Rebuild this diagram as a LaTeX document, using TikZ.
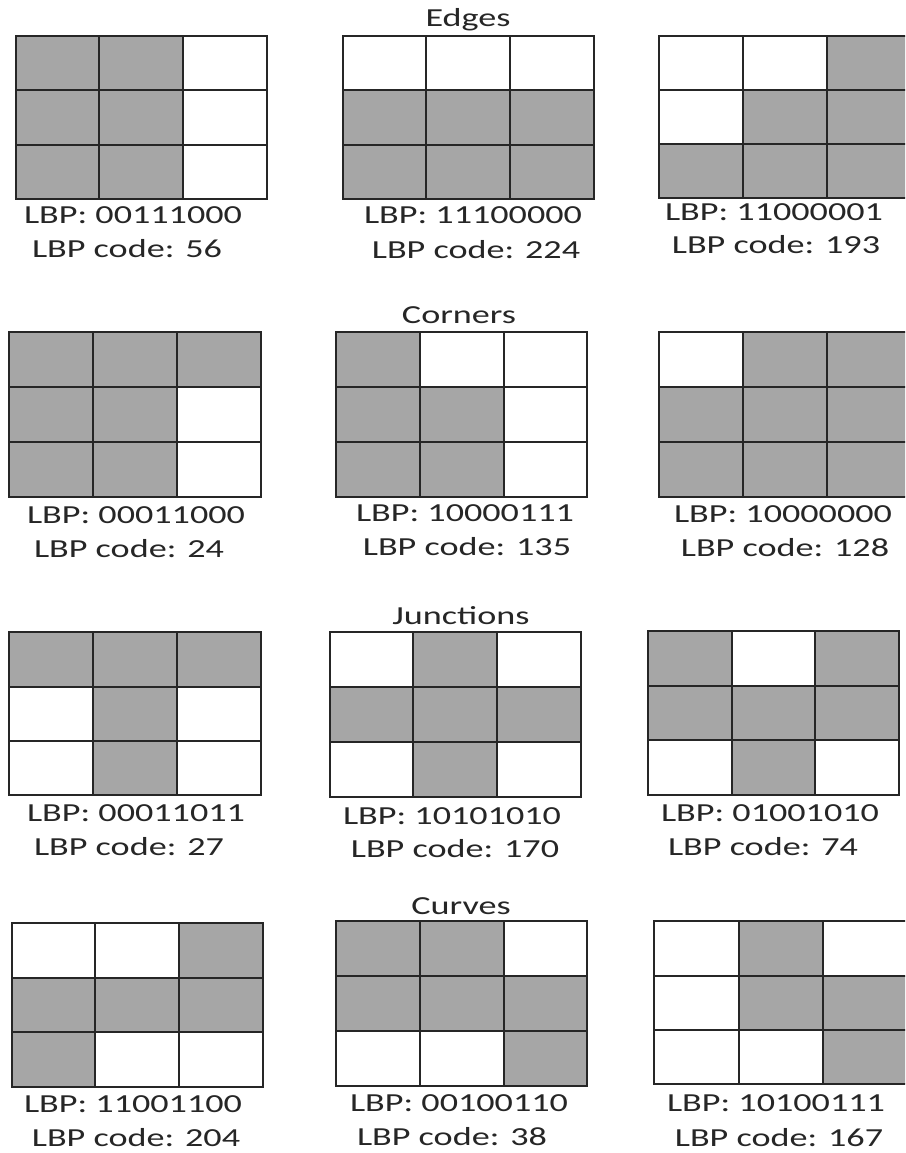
\documentclass[tikz,border=0pt]{standalone}
\usepackage{fontspec}
\setmainfont{Carlito}[FakeStretch=1.39]
\usetikzlibrary{calc}

\definecolor{lbpgray}{RGB}{166,166,166}

% one 3x3 LBP neighbourhood: name, left, top, right, bottom, cells (row by row)
\newcommand{\lbpgrid}[6]{%
  \coordinate (#1-nw) at (#2,#3);
  \coordinate (#1-se) at (#4,#5);
  \foreach \v [count=\k from 0] in {#6} {
    \pgfmathsetmacro{\xa}{#2+(#4-#2)*mod(\k,3)/3}
    \pgfmathsetmacro{\xb}{#2+(#4-#2)*(mod(\k,3)+1)/3}
    \pgfmathsetmacro{\ya}{#3+(#5-#3)*div(\k,3)/3}
    \pgfmathsetmacro{\yb}{#3+(#5-#3)*(div(\k,3)+1)/3}
    \ifnum\v=1 \fill[cellon] (\xa,\ya) rectangle (\xb,\yb); \fi
  }
  \foreach \t in {1,2} {
    \draw[gridline] ($(#1-nw)!\t/3!(#4,#3)$) -- ($(#2,#5)!\t/3!(#1-se)$);
    \draw[gridline] ($(#1-nw)!\t/3!(#2,#5)$) -- ($(#4,#3)!\t/3!(#1-se)$);
  }
  \draw[gridline] (#1-nw) rectangle (#1-se);
}

\begin{document}
\begin{tikzpicture}[x=1pt, y=-1pt,
  cellon/.style={fill=lbpgray},
  gridline/.style={line width=2pt, black!85},
  txt/.style={inner sep=0pt, font=\fontsize{26}{30}\selectfont, text=black!85}]
\useasboundingbox[fill=white] (0,0) rectangle (905,1153);
\clip (0,0) rectangle (905,1153);

% Edges
\node[txt] (edges) at (468,20) {Edges};
\lbpgrid{e1}{15.6}{35.7}{266.6}{199.3}{1,1,0,1,1,0,1,1,0}
\lbpgrid{e2}{342.8}{35.7}{593.8}{199.3}{0,0,0,1,1,1,1,1,1}
\lbpgrid{e3}{659}{35.7}{911}{198.3}{0,0,1,0,1,1,1,1,1}
\node[txt] (e1bin) at (133,215) {LBP: 00111000};
\node[txt] (e1code) at (127,249) {LBP code: 56};
\node[txt] (e2bin) at (473,215) {LBP: 11100000};
\node[txt] (e2code) at (476,250) {LBP code: 224};
\node[txt] (e3bin) at (774,212) {LBP: 11000001};
\node[txt] (e3code) at (776,245) {LBP code: 193};

% Corners
\node[txt] (corners) at (459,315) {Corners};
\lbpgrid{c1}{8.7}{332.3}{260.8}{496.7}{1,1,1,1,1,0,1,1,0}
\lbpgrid{c2}{335.8}{332.3}{587.4}{496.7}{1,0,0,1,1,0,1,1,0}
\lbpgrid{c3}{659}{332.3}{911}{496.7}{0,1,1,1,1,1,1,1,1}
\node[txt] (c1bin) at (136,515) {LBP: 00011000};
\node[txt] (c1code) at (129,549) {LBP code: 24};
\node[txt] (c2bin) at (465,513) {LBP: 10000111};
\node[txt] (c2code) at (467,547) {LBP code: 135};
\node[txt] (c3bin) at (783,514) {LBP: 10000000};
\node[txt] (c3code) at (785,548) {LBP code: 128};

% Junctions
\node[txt] (junctions) at (461,616) {Junctions};
\lbpgrid{j1}{8.7}{632.3}{260.8}{795}{1,1,1,0,1,0,0,1,0}
\lbpgrid{j2}{329.5}{632.3}{580.5}{796.7}{0,1,0,1,1,1,0,1,0}
\lbpgrid{j3}{648}{631.3}{899}{795}{1,0,1,1,1,1,0,1,0}
\node[txt] (j1bin) at (136,813) {LBP: 00011011};
\node[txt] (j1code) at (129,847) {LBP code: 27};
\node[txt] (j2bin) at (452,816) {LBP: 10101010};
\node[txt] (j2code) at (455,849) {LBP code: 170};
\node[txt] (j3bin) at (770,813) {LBP: 01001010};
\node[txt] (j3code) at (763,847) {LBP code: 74};

% Curves
\node[txt] (curves) at (461,906) {Curves};
\lbpgrid{v1}{11.5}{922.7}{262.5}{1087.3}{0,0,1,1,1,1,1,0,0}
\lbpgrid{v2}{335.8}{921.3}{587.4}{1085.7}{1,1,0,1,1,1,0,0,1}
\lbpgrid{v3}{654.4}{921.3}{907}{1084.3}{0,1,0,0,1,1,0,0,1}
\node[txt] (v1bin) at (133,1104) {LBP: 11001100};
\node[txt] (v1code) at (136,1138) {LBP code: 204};
\node[txt] (v2bin) at (459,1103) {LBP: 00100110};
\node[txt] (v2code) at (452,1137) {LBP code: 38};
\node[txt] (v3bin) at (776,1103) {LBP: 10100111};
\node[txt] (v3code) at (779,1138) {LBP code: 167};
\end{tikzpicture}
\end{document}
